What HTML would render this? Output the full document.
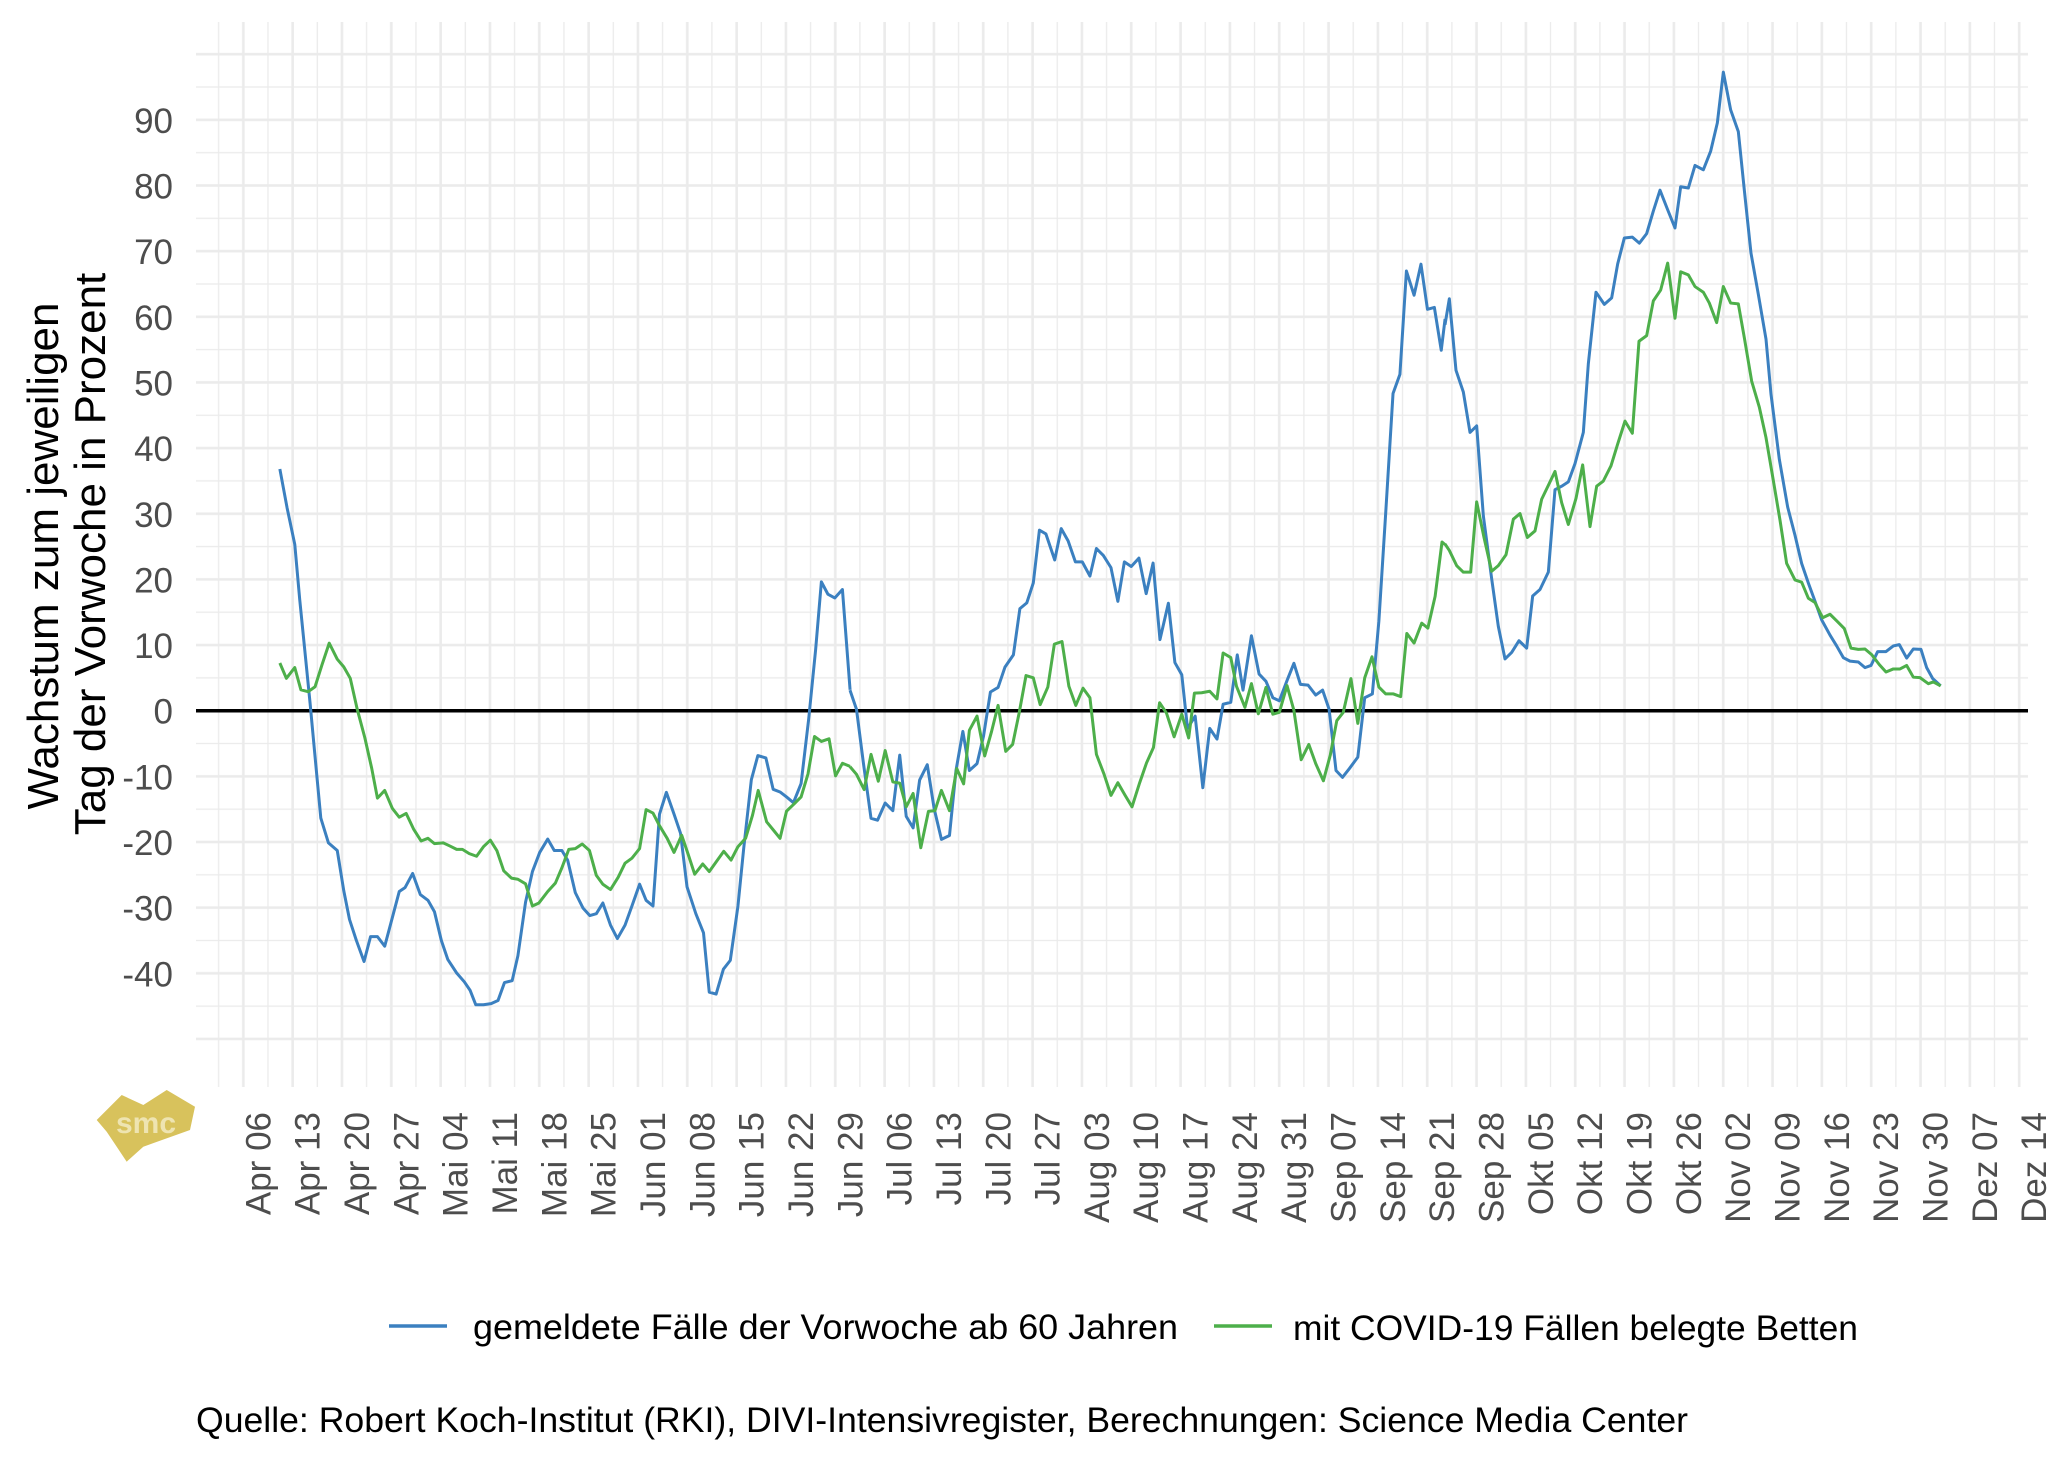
<!DOCTYPE html>
<html><head><meta charset="utf-8"><style>html,body{margin:0;padding:0;background:#fff}svg{display:block}</style></head><body>
<svg xmlns="http://www.w3.org/2000/svg" width="2048" height="1462" viewBox="0 0 2048 1462" font-family="'Liberation Sans', Arial, sans-serif">
<defs>
<pattern id="vp" patternUnits="userSpaceOnUse" x="206.305" y="0" width="49.33" height="100">
<rect x="11.68" y="0" width="1.3" height="100" fill="#ebebeb"/>
<rect x="35.7" y="0" width="2.6" height="100" fill="#ebebeb"/>
</pattern>
<pattern id="hp" patternUnits="userSpaceOnUse" x="0" y="37.79" width="100" height="65.65">
<rect x="0" y="15.11" width="100" height="2.6" fill="#ebebeb"/>
<rect x="0" y="48.59" width="100" height="1.3" fill="#ebebeb"/>
</pattern>
</defs>
<rect width="2048" height="1462" fill="#fff"/>
<rect x="196" y="22" width="1832" height="1065" fill="url(#vp)"/>
<rect x="196" y="37.79" width="1832" height="1012" fill="url(#hp)"/>
<line x1="196" y1="710.7" x2="2028" y2="710.7" stroke="#000" stroke-width="3.5"/>
<g fill="none" stroke-width="3" stroke-linejoin="round">
<g transform="translate(250,420) scale(0.38270)">
<polyline vector-effect="non-scaling-stroke" stroke-width="3" stroke="#3b80c0" points="78,128 97,230 117,325 130,470 143,600 157,740 170,880 185,1040 205,1105 228,1125 245,1230 260,1305 278,1360 298,1415 315,1350 333,1350 352,1375 372,1300 390,1232 405,1222 425,1185 445,1240 465,1255 482,1285 500,1360 517,1410 540,1445 560,1468 575,1490 590,1528 610,1528 630,1525 648,1517 665,1470 685,1465 700,1400 720,1260 738,1180 757,1130 778,1095 795,1125 815,1125 830,1150 850,1235 870,1275 888,1295 905,1290 922,1262 942,1320 960,1355 980,1320 998,1270 1018,1213 1035,1255 1053,1270 1070,1030 1088,973 1108,1030 1125,1080 1142,1220 1165,1290 1185,1340 1200,1495 1218,1500 1237,1435 1255,1412 1275,1270 1290,1120 1310,940 1327,877 1348,883 1367,965 1385,972 1402,985 1420,1000 1440,950 1460,780 1478,600 1493,423 1510,455 1528,465 1548,443 1568,705"/>
<polyline vector-effect="non-scaling-stroke" stroke-width="3" stroke="#4daf4a" points="78,635 95,675 117,647 133,705 152,710 170,697 188,640 207,583 228,625 245,645 262,675 280,755 300,830 318,910 333,988 352,968 372,1015 390,1038 408,1028 428,1070 447,1100 465,1093 482,1107 505,1105 522,1113 540,1122 555,1122 573,1133 592,1140 610,1115 628,1098 645,1125 663,1178 683,1197 700,1200 720,1212 738,1270 755,1262 778,1232 798,1210 815,1170 833,1122 850,1120 868,1108 887,1125 905,1190 922,1213 942,1227 962,1195 980,1158 998,1145 1018,1120 1035,1018 1053,1027 1070,1060 1090,1093 1108,1130 1128,1085 1145,1135 1162,1187 1183,1160 1200,1180 1220,1152 1238,1127 1257,1150 1275,1115 1295,1093 1313,1033 1328,968 1350,1050 1368,1072 1385,1093 1402,1022 1422,1003 1440,985 1458,925 1475,827 1493,840 1513,833 1530,930 1548,897 1568,905"/>
</g>
<g transform="translate(845,250) scale(0.38270)">
<polyline vector-effect="non-scaling-stroke" stroke-width="3" stroke="#3b80c0" points="13,1150 30,1200 48,1340 68,1485 85,1490 105,1445 125,1465 143,1320 160,1480 178,1510 195,1385 215,1345 233,1460 252,1540 273,1530 290,1360 308,1258 325,1360 345,1342 362,1270 380,1155 400,1143 418,1090 440,1058 457,937 475,922 492,870 508,732 525,742 548,810 565,728 583,760 602,815 620,815 640,852 657,780 675,798 695,830 713,918 730,815 748,827 768,805 787,898 805,818 823,1018 845,923 862,1078 880,1110 895,1250 915,1218 935,1405 953,1250 972,1278 988,1187 1008,1182 1025,1058 1040,1150 1062,1008 1082,1108 1100,1127 1118,1170 1135,1178 1155,1125 1173,1080 1190,1135 1210,1137 1230,1163 1248,1150 1265,1200 1283,1360 1300,1378 1318,1355 1340,1325 1358,1170 1378,1160 1395,970 1413,685 1432,375 1450,325 1467,55 1487,118 1505,37 1522,155 1540,150 1558,262 1568,180"/>
<polyline vector-effect="non-scaling-stroke" stroke-width="3" stroke="#4daf4a" points="13,1350 30,1370 50,1410 68,1318 87,1388 105,1308 125,1390 143,1393 160,1455 178,1420 198,1562 218,1467 235,1465 252,1412 273,1465 292,1355 310,1395 325,1255 345,1218 365,1322 383,1258 400,1190 420,1310 438,1292 455,1210 473,1112 492,1118 510,1188 530,1142 547,1030 567,1023 585,1140 603,1190 622,1145 640,1170 657,1318 677,1370 695,1425 713,1392 732,1425 750,1455 770,1392 788,1340 806,1300 822,1183 840,1210 860,1272 880,1213 898,1275 913,1158 932,1157 953,1153 972,1173 988,1053 1008,1065 1023,1140 1045,1195 1062,1133 1080,1212 1100,1143 1118,1213 1135,1208 1155,1138 1173,1203 1192,1332 1212,1292 1230,1342 1250,1387 1268,1320 1285,1230 1302,1208 1322,1120 1340,1237 1358,1118 1377,1063 1395,1142 1413,1160 1433,1160 1452,1167 1468,1002 1487,1027 1507,975 1523,988 1542,905 1560,763 1568,770"/>
</g>
<g transform="translate(1440,60) scale(0.33333,0.43403)">
<polyline vector-effect="non-scaling-stroke" stroke-width="3" stroke="#3b80c0" points="15,610 28,550 48,715 70,765 90,858 110,843 130,1050 155,1195 175,1305 195,1380 215,1365 237,1338 260,1355 278,1235 300,1220 325,1180 345,990 365,982 385,972 405,930 430,858 445,700 468,535 493,563 515,548 533,470 553,410 577,408 598,422 620,400 640,348 660,300 683,345 705,387 722,292 745,295 765,243 790,253 812,210 832,145 850,28 872,115 895,165 913,300 933,445 955,540 978,643 993,770 1018,920 1043,1030 1065,1095 1085,1160 1105,1205 1125,1247 1145,1290 1170,1325 1190,1350 1210,1377 1230,1385 1255,1387 1275,1400 1293,1395 1313,1363 1338,1363 1360,1350 1378,1347 1400,1378 1420,1357 1443,1358 1460,1400 1478,1425 1502,1442"/>
<polyline vector-effect="non-scaling-stroke" stroke-width="3" stroke="#4daf4a" points="15,1115 28,1130 50,1165 70,1180 92,1180 110,1018 132,1100 155,1178 175,1165 198,1140 220,1058 240,1045 262,1100 285,1085 305,1012 325,980 345,948 365,1020 385,1070 408,1010 428,933 450,1075 470,982 490,970 513,935 533,885 555,832 577,860 597,648 620,635 640,555 662,530 683,468 705,595 722,488 745,495 765,522 790,535 808,560 830,605 850,522 872,560 895,562 913,640 935,740 958,800 978,870 998,960 1020,1060 1040,1160 1065,1198 1085,1203 1105,1240 1125,1250 1148,1285 1170,1277 1190,1292 1213,1310 1233,1355 1255,1358 1275,1357 1295,1370 1318,1393 1338,1410 1360,1403 1380,1403 1400,1395 1420,1422 1440,1423 1465,1437 1480,1433 1502,1442"/>
</g>
</g>
<g font-size="35" fill="#4d4d4d" text-anchor="end">
<text x="173" y="132.9">90</text>
<text x="173" y="198.5">80</text>
<text x="173" y="264.2">70</text>
<text x="173" y="329.8">60</text>
<text x="173" y="395.5">50</text>
<text x="173" y="461.1">40</text>
<text x="173" y="526.8">30</text>
<text x="173" y="592.4">20</text>
<text x="173" y="658.1">10</text>
<text x="173" y="723.7">0</text>
<text x="173" y="789.4">-10</text>
<text x="173" y="855.0">-20</text>
<text x="173" y="920.7">-30</text>
<text x="173" y="986.3">-40</text>
</g>
<g font-size="35" fill="#4d4d4d" text-anchor="end">
<text transform="translate(270.3,1112) rotate(-90)">Apr 06</text>
<text transform="translate(319.6,1112) rotate(-90)">Apr 13</text>
<text transform="translate(369.0,1112) rotate(-90)">Apr 20</text>
<text transform="translate(418.3,1112) rotate(-90)">Apr 27</text>
<text transform="translate(467.6,1112) rotate(-90)">Mai 04</text>
<text transform="translate(517.0,1112) rotate(-90)">Mai 11</text>
<text transform="translate(566.3,1112) rotate(-90)">Mai 18</text>
<text transform="translate(615.6,1112) rotate(-90)">Mai 25</text>
<text transform="translate(664.9,1112) rotate(-90)">Jun 01</text>
<text transform="translate(714.3,1112) rotate(-90)">Jun 08</text>
<text transform="translate(763.6,1112) rotate(-90)">Jun 15</text>
<text transform="translate(812.9,1112) rotate(-90)">Jun 22</text>
<text transform="translate(862.3,1112) rotate(-90)">Jun 29</text>
<text transform="translate(911.6,1112) rotate(-90)">Jul 06</text>
<text transform="translate(960.9,1112) rotate(-90)">Jul 13</text>
<text transform="translate(1010.3,1112) rotate(-90)">Jul 20</text>
<text transform="translate(1059.6,1112) rotate(-90)">Jul 27</text>
<text transform="translate(1108.9,1112) rotate(-90)">Aug 03</text>
<text transform="translate(1158.2,1112) rotate(-90)">Aug 10</text>
<text transform="translate(1207.6,1112) rotate(-90)">Aug 17</text>
<text transform="translate(1256.9,1112) rotate(-90)">Aug 24</text>
<text transform="translate(1306.2,1112) rotate(-90)">Aug 31</text>
<text transform="translate(1355.6,1112) rotate(-90)">Sep 07</text>
<text transform="translate(1404.9,1112) rotate(-90)">Sep 14</text>
<text transform="translate(1454.2,1112) rotate(-90)">Sep 21</text>
<text transform="translate(1503.6,1112) rotate(-90)">Sep 28</text>
<text transform="translate(1552.9,1112) rotate(-90)">Okt 05</text>
<text transform="translate(1602.2,1112) rotate(-90)">Okt 12</text>
<text transform="translate(1651.5,1112) rotate(-90)">Okt 19</text>
<text transform="translate(1700.9,1112) rotate(-90)">Okt 26</text>
<text transform="translate(1750.2,1112) rotate(-90)">Nov 02</text>
<text transform="translate(1799.5,1112) rotate(-90)">Nov 09</text>
<text transform="translate(1848.9,1112) rotate(-90)">Nov 16</text>
<text transform="translate(1898.2,1112) rotate(-90)">Nov 23</text>
<text transform="translate(1947.5,1112) rotate(-90)">Nov 30</text>
<text transform="translate(1996.9,1112) rotate(-90)">Dez 07</text>
<text transform="translate(2046.2,1112) rotate(-90)">Dez 14</text>
</g>
<g font-size="44" fill="#000" text-anchor="middle">
<text transform="translate(58,556) rotate(-90)">Wachstum zum jeweiligen</text>
<text transform="translate(105,554) rotate(-90)">Tag der Vorwoche in Prozent</text>
</g>
<polygon points="96.7,1120 121.7,1095 143.3,1105 166.7,1090 195,1106.7 190,1130 143.3,1146.7 126.7,1161.7 106.7,1131.7" fill="#d8c25c"/>
<text x="146" y="1133" font-size="30" font-weight="bold" fill="#f3eac0" text-anchor="middle" opacity="0.85">smc</text>
<line x1="389" y1="1326" x2="447" y2="1326" stroke="#3b80c0" stroke-width="3.5"/>
<text x="473" y="1339" font-size="35" fill="#000" textLength="705" lengthAdjust="spacingAndGlyphs">gemeldete Fälle der Vorwoche ab 60 Jahren</text>
<line x1="1214" y1="1326" x2="1272" y2="1326" stroke="#4daf4a" stroke-width="3.5"/>
<text x="1293" y="1340" font-size="35" fill="#000" textLength="565" lengthAdjust="spacingAndGlyphs">mit COVID-19 Fällen belegte Betten</text>
<text x="196" y="1432" font-size="35" fill="#000" textLength="1492" lengthAdjust="spacingAndGlyphs">Quelle: Robert Koch-Institut (RKI), DIVI-Intensivregister, Berechnungen: Science Media Center</text>
</svg>
</body></html>
